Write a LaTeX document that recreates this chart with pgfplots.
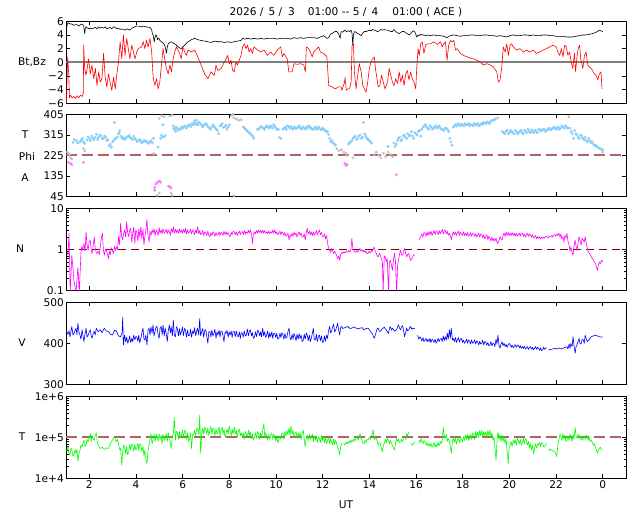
\documentclass[border=0pt]{standalone}
\usepackage{fontspec}
\setmainfont{DejaVu Sans}
\usepackage{pgfplots}
\pgfplotsset{compat=1.18}
\definecolor{rosy}{RGB}{178,100,100}
\definecolor{skyb}{RGB}{135,206,250}
\definecolor{silv}{RGB}{192,192,192}
\definecolor{pinkv}{RGB}{255,120,255}
\definecolor{magn}{RGB}{255,0,255}
\definecolor{grn}{RGB}{0,255,0}
\definecolor{blu}{RGB}{0,0,255}
\definecolor{rd}{RGB}{255,0,0}
\pgfplotsset{
  panel/.style={anchor=south west, width=560bp, height=82bp, scale only axis,
    xmin=1, xmax=25, xtick={2,4,...,24}, xticklabels={},
    tick align=inside, major tick length=4bp, minor tick length=2.5bp,
    axis line style={line width=0.8bp},
    every tick/.style={black, line width=0.6bp},
    /pgf/number format/assume math mode=true,
    yticklabel style={inner sep=2bp},
    xticklabel style={inner sep=2bp},
    clip=true},
  dat/.style={line width=0.6bp, line join=round},
  pts/.style={only marks, mark=*, mark size=1.2bp, color=#1},
}
\begin{document}
\fontsize{10.6bp}{12bp}\selectfont
\begin{tikzpicture}[x=1bp,y=1bp]
\path[use as bounding box] (0,0) rectangle (640,512);
% ---------- panel 1: Bt, Bz
\begin{axis}[panel, at={(66bp,408.7bp)}, ymin=-6, ymax=6, ytick={-6,-4,...,6},
  yticklabels={−6,−4,−2,0,2,4,6}]
\addplot[gray, line width=2bp] coordinates {(1,0)(25,0)};
\addplot[dat, black] coordinates {
(1.02,4.9)(1.05,5.5)(1.09,5.8)(1.12,5.7)(1.19,5.6)(1.26,5.6)(1.33,5.4)(1.40,5.5)(1.48,5.5)(1.55,5.3)(1.62,5.5)(1.69,5.6)(1.76,5.3)(1.80,4.2)(1.83,5.0)(1.86,5.2)(1.97,4.9)(2.04,5.0)(2.11,4.9)(2.19,5.0)(2.26,5.1)(2.33,4.9)(2.40,5.2)(2.47,5.0)(2.54,5.1)(2.61,5.0)(2.68,5.2)(2.75,4.9)(2.82,5.0)(2.89,5.1)(2.96,4.9)(3.04,5.2)(3.11,5.1)(3.18,4.9)(3.25,5.0)(3.32,4.8)(3.39,4.9)(3.46,4.8)(3.53,4.7)(3.60,4.9)(3.67,4.8)(3.74,4.7)(3.82,5.0)(3.89,5.1)(3.96,5.2)(4.03,5.3)(4.10,5.3)(4.24,5.2)(4.31,5.3)(4.38,5.2)(4.45,5.2)(4.52,5.1)(4.60,5.1)(4.67,4.8)(4.70,4.2)(4.74,3.9)(4.78,3.0)(4.81,3.6)(4.85,4.0)(4.88,3.9)(4.92,3.3)(4.95,3.5)(4.98,3.5)(5.02,3.2)(5.09,3.0)(5.16,2.8)(5.23,2.5)(5.27,2.0)(5.30,1.3)(5.34,2.2)(5.38,2.7)(5.45,2.9)(5.52,3.0)(5.59,2.8)(5.66,2.7)(5.73,2.5)(5.80,2.25)(5.87,2.1)(5.94,2.0)(6.01,2.3)(6.09,2.5)(6.16,2.8)(6.23,3.0)(6.37,3.3)(6.51,3.5)(6.65,3.3)(6.79,3.2)(6.94,3.1)(7.08,3.0)(7.22,2.9)(7.36,3.1)(7.50,3.0)(7.65,3.0)(7.79,2.9)(7.93,3.0)(8.07,2.9)(8.21,3.0)(8.35,3.1)(8.50,3.2)(8.57,3.5)(8.64,3.4)(8.78,3.5)(8.92,3.4)(9.06,3.5)(9.21,3.4)(9.35,3.5)(9.49,3.4)(9.63,3.5)(9.77,3.5)(9.91,3.5)(10.06,3.4)(10.20,3.5)(10.34,3.5)(10.48,3.5)(10.62,3.4)(10.77,3.6)(10.91,3.5)(11.05,3.6)(11.19,3.5)(11.33,3.6)(11.47,3.6)(11.62,3.6)(11.76,3.5)(11.90,3.7)(12.04,3.9)(12.11,3.7)(12.18,3.5)(12.26,3.6)(12.33,4.1)(12.40,4.2)(12.47,4.4)(12.54,4.5)(12.61,4.5)(12.68,4.2)(12.75,3.5)(12.79,4.5)(12.86,4.4)(12.94,4.7)(13.01,4.5)(13.08,4.6)(13.15,4.5)(13.22,4.7)(13.26,4.2)(13.29,2.5)(13.32,4.0)(13.36,4.5)(13.43,4.4)(13.50,4.2)(13.57,4.1)(13.65,3.9)(13.72,4.3)(13.79,4.5)(13.86,4.5)(13.93,4.6)(14.00,4.7)(14.07,4.6)(14.14,4.8)(14.21,4.7)(14.28,4.6)(14.35,4.5)(14.43,4.6)(14.50,4.8)(14.57,4.7)(14.64,4.8)(14.71,4.7)(14.78,4.7)(14.85,4.6)(14.92,4.5)(14.99,4.5)(15.06,4.8)(15.13,4.5)(15.21,4.3)(15.28,4.2)(15.35,4.4)(15.42,4.5)(15.49,4.5)(15.56,4.3)(15.63,4.2)(15.70,4.0)(15.77,4.2)(15.84,4.5)(15.91,4.6)(15.97,4.3)(16.03,3.7)(16.09,4.0)(16.14,3.9)(16.20,4.1)(16.27,4.0)(16.34,4.0)(16.41,3.9)(16.48,4.0)(16.62,3.9)(16.77,4.0)(16.91,3.9)(17.05,3.9)(17.19,3.8)(17.26,3.7)(17.33,3.6)(17.40,3.8)(17.48,3.9)(17.62,4.0)(17.76,3.9)(17.90,3.8)(18.04,3.9)(18.18,3.9)(18.33,4.0)(18.47,4.0)(18.61,3.9)(18.75,3.9)(18.89,4.0)(19.04,4.0)(19.18,3.9)(19.32,3.9)(19.46,3.8)(19.60,3.9)(19.74,3.8)(19.89,3.7)(20.03,3.9)(20.17,4.0)(20.31,3.9)(20.45,3.9)(20.60,4.0)(20.74,4.0)(20.88,3.9)(21.02,4.0)(21.16,3.9)(21.30,3.9)(21.45,4.0)(21.59,4.0)(21.73,3.9)(21.87,3.9)(22.01,3.8)(22.16,3.8)(22.30,3.8)(22.44,3.7)(22.58,3.7)(22.72,3.7)(22.86,3.8)(23.01,3.9)(23.15,4.0)(23.29,4.0)(23.43,4.1)(23.57,4.2)(23.72,4.4)(23.86,4.7)(23.93,4.6)(24.0,4.5)};
\addplot[dat, rd] coordinates {
(1.02,-5.9)(1.07,0.8)(1.12,-1.9)(1.15,-5.2)(1.19,-4.8)(1.26,-5.2)(1.33,-5.0)(1.40,-5.3)(1.48,-4.9)(1.55,-5.2)(1.62,-4.8)(1.69,-5.0)(1.74,-4.6)(1.76,2.5)(1.80,-0.9)(1.86,-1.9)(1.97,0.5)(2.04,-1.7)(2.11,-0.4)(2.19,-2.4)(2.26,-0.9)(2.33,-3.4)(2.40,-1.4)(2.47,-2.9)(2.54,-2.4)(2.61,1.3)(2.68,-2.2)(2.75,-3.6)(2.82,-1.7)(2.89,-2.9)(2.96,-4.1)(3.04,-2.2)(3.11,-3.9)(3.18,-1.7)(3.25,0.05)(3.32,3.0)(3.39,0.5)(3.46,4.0)(3.53,1.0)(3.60,3.5)(3.67,2.0)(3.74,0.5)(3.82,2.5)(3.89,1.5)(3.96,0.5)(4.03,1.5)(4.10,2.0)(4.24,2.25)(4.31,3.0)(4.38,2.0)(4.45,3.2)(4.52,2.25)(4.60,3.5)(4.67,1.5)(4.74,-2.4)(4.81,-3.4)(4.88,-2.4)(4.95,-3.9)(5.02,-2.9)(5.09,-0.4)(5.16,2.0)(5.23,0.5)(5.30,-0.9)(5.38,-1.7)(5.45,-0.4)(5.52,-1.4)(5.59,0.5)(5.66,1.5)(5.73,2.25)(5.80,1.8)(5.87,1.3)(5.94,0.5)(6.01,2.25)(6.09,1.5)(6.16,1.0)(6.23,1.8)(6.37,1.5)(6.51,1.8)(6.65,0.8)(6.79,-0.4)(6.94,-1.7)(7.08,-2.4)(7.22,-1.4)(7.36,-1.9)(7.43,-0.4)(7.50,-1.2)(7.65,-0.9)(7.79,0.05)(7.93,1.0)(8.00,-0.2)(8.07,0.3)(8.14,-1.2)(8.21,-1.4)(8.28,0.05)(8.35,-0.4)(8.50,1.0)(8.57,2.25)(8.64,2.7)(8.71,2.0)(8.78,2.5)(8.85,1.5)(8.92,2.0)(8.99,1.3)(9.06,2.25)(9.21,1.8)(9.35,1.5)(9.49,1.8)(9.63,1.0)(9.77,1.5)(9.91,1.0)(10.06,1.8)(10.20,2.25)(10.27,0.8)(10.34,1.3)(10.48,0.5)(10.55,-1.4)(10.69,-1.4)(10.77,-0.2)(10.91,-0.3)(11.05,-0.2)(11.19,-0.4)(11.26,-1.4)(11.30,2.25)(11.40,2.0)(11.47,1.5)(11.55,0.8)(11.62,1.5)(11.76,2.0)(11.83,2.25)(11.90,1.5)(12.04,1.3)(12.18,0.8)(12.26,-3.4)(12.40,-3.6)(12.54,-3.9)(12.68,-3.6)(12.79,-3.6)(12.82,-4.1)(12.94,-2.9)(12.96,-2.2)(13.01,-4.1)(13.08,-3.9)(13.15,-3.9)(13.22,-2.9)(13.26,2.5)(13.32,2.7)(13.36,-1.4)(13.43,-3.9)(13.50,-1.9)(13.57,-0.2)(13.65,-1.4)(13.72,-3.4)(13.79,-3.9)(13.86,-4.4)(13.93,-2.9)(14.00,-0.9)(14.07,0.05)(14.14,0.5)(14.21,0.8)(14.26,-0.9)(14.33,-2.4)(14.38,-3.6)(14.45,-3.4)(14.52,-1.9)(14.60,-2.9)(14.67,-3.9)(14.78,-2.9)(14.85,-0.9)(14.92,-1.9)(14.99,-2.9)(15.06,-3.4)(15.13,-2.4)(15.21,-3.1)(15.28,-1.4)(15.35,-2.9)(15.42,-1.9)(15.49,-3.4)(15.56,-1.7)(15.63,-1.2)(15.70,-2.6)(15.77,-1.4)(15.84,-2.4)(15.91,-2.9)(15.99,-3.9)(16.03,-0.9)(16.09,2.0)(16.14,1.0)(16.20,2.7)(16.27,3.0)(16.34,1.3)(16.41,2.5)(16.48,2.7)(16.62,2.7)(16.77,3.0)(16.91,2.6)(17.05,3.0)(17.12,2.25)(17.19,2.7)(17.26,3.0)(17.33,0.3)(17.40,2.5)(17.48,3.2)(17.55,3.0)(17.62,3.2)(17.69,1.8)(17.76,2.0)(17.90,1.3)(18.04,1.0)(18.18,0.8)(18.33,0.6)(18.47,0.5)(18.61,0.3)(18.75,0.05)(18.89,-0.4)(19.04,-0.2)(19.18,-0.4)(19.32,-0.7)(19.46,-1.4)(19.53,-2.9)(19.60,-2.6)(19.67,-0.9)(19.74,2.25)(19.82,1.5)(19.89,2.7)(19.96,1.0)(20.03,2.5)(20.10,2.7)(20.17,2.25)(20.31,1.8)(20.45,2.0)(20.60,1.5)(20.74,1.8)(20.88,1.5)(21.02,1.8)(21.16,1.3)(21.30,1.5)(21.45,1.8)(21.59,2.0)(21.73,2.25)(21.87,2.5)(22.01,2.25)(22.08,1.5)(22.16,1.0)(22.23,2.0)(22.30,0.8)(22.37,2.5)(22.44,2.25)(22.51,1.0)(22.58,1.5)(22.65,0.05)(22.72,-0.9)(22.79,1.3)(22.84,-1.4)(22.89,0.5)(22.95,2.0)(23.01,2.5)(23.06,0.5)(23.15,-0.9)(23.22,1.0)(23.29,1.5)(23.36,-0.4)(23.43,-0.7)(23.50,-0.9)(23.57,-1.2)(23.64,-1.7)(23.72,-1.9)(23.79,-2.6)(23.86,-1.7)(23.93,-1.4)(23.97,-3.9)};
\end{axis}
% ---------- panel 2: Phi scatter
\begin{axis}[panel, at={(66bp,315.5bp)}, ymin=45, ymax=405, ytick={45,135,225,315,405}]
\addplot[rosy, line width=2bp, dash pattern=on 11bp off 5bp] coordinates {(1,225)(25,225)};
\addplot[pts=silv] coordinates {
(1.05,240)(1.1,235)(1.15,230)(1.2,215)(1.25,210)(1.75,255)(1.8,245)(4.75,233)(4.9,50)(5.0,387)(5.0,60)(5.1,400)(5.2,395)(5.45,398)(5.5,60)(5.55,402)(5.55,50)(6.5,378)(6.6,380)(8.1,400)(8.15,405)(8.2,390)(8.2,49)(8.3,385)(8.4,380)(8.5,382)(12.6,255)(12.7,245)(12.8,250)(12.9,240)(13.0,235)(13.05,225)(13.3,215)(14.2,230)(14.3,240)(14.4,225)(14.5,215)(14.6,235)(14.7,220)(14.8,240)(14.9,230)(15.0,220)(19.5,390)(22.55,395)(24.0,240)};
\addplot[pts=pinkv] coordinates {
(1.1,195)(1.2,190)(1.25,185)(1.75,195)(4.8,85)(4.85,100)(4.9,105)(4.95,110)(5.0,112)(5.05,108)(4.8,72)(5.4,90)(5.45,88)(5.5,82)(12.95,190)(13.0,180)(13.05,185)(15.15,140)};
\addplot[pts=skyb] coordinates {
(1.3,283)(1.45,290)(1.6,285)(1.7,300)(1.8,278)(1.9,292)(2.0,300)(2.1,310)(2.2,295)(2.3,318)(2.4,305)(2.5,312)(2.6,298)(2.7,305)(2.8,295)(2.85,268)(2.9,275)(2.95,262)(3.0,285)(3.08,370)(3.1,298)(3.2,305)(3.25,320)(3.3,335)(3.35,310)(3.4,300)(3.5,295)(3.6,305)(3.7,312)(3.8,300)(3.9,310)(4.0,295)(4.1,290)(4.2,288)(4.3,285)(4.4,287)(4.5,282)(4.6,286)(4.7,280)(4.75,300)(4.95,262)(5.05,300)(5.1,315)(5.15,360)(5.2,305)(5.6,355)(5.65,340)(5.7,330)(5.75,345)(5.8,335)(5.9,340)(5.95,350)(6.0,345)(6.1,355)(6.2,350)(6.3,360)(6.4,365)(6.5,370)(6.6,368)(6.7,372)(6.8,360)(6.9,355)(7.0,365)(7.1,350)(7.2,340)(7.3,360)(7.4,345)(7.5,335)(7.55,320)(7.6,355)(7.7,365)(7.8,350)(7.9,340)(8.0,360)(8.6,350)(8.7,340)(8.8,330)(8.9,320)(9.0,310)(9.05,300)(9.2,340)(9.3,345)(9.4,350)(9.5,340)(9.6,355)(9.7,345)(9.8,350)(9.9,360)(10.0,345)(10.1,340)(10.15,305)(10.2,300)(10.3,340)(10.4,350)(10.5,355)(10.6,345)(10.7,340)(10.8,350)(10.9,345)(11.0,355)(11.1,340)(11.2,345)(11.3,350)(11.4,355)(11.5,345)(11.6,340)(11.7,350)(11.8,345)(11.9,340)(12.0,345)(12.1,335)(12.2,330)(12.3,300)(12.35,285)(12.4,290)(12.5,275)(12.55,270)(13.1,275)(13.2,285)(13.3,300)(13.4,310)(13.5,300)(13.6,315)(13.7,305)(13.75,370)(13.8,320)(13.9,300)(14.0,290)(14.1,280)(14.8,265)(15.05,280)(15.1,265)(15.2,290)(15.3,305)(15.4,295)(15.5,315)(15.6,300)(15.7,310)(15.8,330)(15.9,300)(16.0,320)(16.1,330)(16.2,310)(16.3,350)(16.4,360)(16.5,345)(16.6,355)(16.7,340)(16.8,350)(16.9,345)(17.0,355)(17.1,340)(17.2,335)(17.3,345)(17.4,330)(17.45,300)(17.5,285)(17.55,270)(17.6,350)(17.7,360)(17.8,365)(17.9,355)(18.0,360)(18.1,365)(18.2,360)(18.3,355)(18.4,360)(18.5,365)(18.6,360)(18.7,355)(18.8,365)(18.9,370)(19.0,365)(19.1,370)(19.2,375)(19.3,380)(19.4,385)(19.7,330)(19.8,320)(19.9,335)(20.0,325)(20.1,330)(20.2,320)(20.3,330)(20.4,325)(20.5,335)(20.6,320)(20.7,330)(20.8,340)(20.9,325)(21.0,330)(21.1,335)(21.2,325)(21.3,340)(21.4,335)(21.5,340)(21.6,335)(21.7,345)(21.8,340)(21.9,345)(22.0,340)(22.1,350)(22.2,345)(22.3,350)(22.4,355)(22.5,345)(22.6,345)(22.7,320)(22.75,300)(22.8,335)(22.9,315)(23.0,300)(23.1,310)(23.2,295)(23.3,290)(23.4,300)(23.5,280)(23.6,275)(23.7,270)(23.8,260)(23.9,255)(24.0,250)};
\addplot[pts=skyb] coordinates {
(1.35,295)(1.5,280)(1.65,292)(1.75,285)(1.95,305)(2.05,290)(2.15,300)(2.25,305)(2.35,295)(2.45,315)(2.55,300)(2.65,310)(2.75,290)(3.05,292)(3.15,302)(3.28,325)(3.45,305)(3.55,300)(3.65,308)(3.75,305)(3.85,295)(3.95,300)(4.05,285)(4.15,295)(4.25,280)(4.35,292)(4.45,288)(4.55,278)(4.65,290)(5.12,308)(5.25,312)(5.62,345)(5.72,350)(5.85,342)(6.05,352)(6.15,345)(6.25,358)(6.35,352)(6.45,360)(6.55,362)(6.65,360)(6.75,365)(6.85,350)(6.95,362)(7.05,358)(7.15,345)(7.25,350)(7.35,352)(7.45,340)(7.65,358)(7.75,348)(7.85,358)(7.95,350)(8.65,345)(8.75,335)(8.85,325)(8.95,315)(9.25,338)(9.35,352)(9.45,345)(9.55,348)(9.65,350)(9.75,355)(9.85,345)(9.95,352)(10.05,338)(10.35,345)(10.45,340)(10.55,350)(10.65,352)(10.75,345)(10.85,342)(10.95,350)(11.05,345)(11.15,350)(11.25,340)(11.35,345)(11.45,350)(11.55,340)(11.65,345)(11.75,340)(11.85,350)(11.95,338)(12.05,340)(12.15,330)(12.25,318)(12.45,280)(13.15,280)(13.25,290)(13.35,305)(13.45,295)(13.55,310)(13.65,300)(13.85,310)(13.95,295)(14.05,285)(15.15,275)(15.25,300)(15.35,290)(15.45,310)(15.55,305)(15.65,320)(15.75,315)(15.85,310)(15.95,325)(16.05,315)(16.15,335)(16.25,340)(16.35,355)(16.45,350)(16.55,340)(16.65,350)(16.75,345)(16.85,355)(16.95,350)(17.05,345)(17.15,338)(17.25,345)(17.35,340)(17.65,355)(17.75,355)(17.85,360)(17.95,362)(18.05,355)(18.15,360)(18.25,365)(18.35,360)(18.45,355)(18.55,360)(18.65,365)(18.75,360)(18.85,362)(18.95,368)(19.05,372)(19.15,365)(19.25,378)(19.35,382)(19.75,325)(19.85,330)(19.95,320)(20.05,335)(20.15,325)(20.25,335)(20.35,320)(20.45,330)(20.55,325)(20.65,335)(20.75,325)(20.85,330)(20.95,338)(21.05,325)(21.15,330)(21.25,338)(21.35,332)(21.45,340)(21.55,330)(21.65,340)(21.75,338)(21.85,345)(21.95,350)(22.05,345)(22.15,340)(22.25,355)(22.35,345)(22.45,350)(22.65,330)(22.85,320)(22.95,305)(23.05,315)(23.15,300)(23.25,305)(23.35,285)(23.45,290)(23.55,285)(23.65,268)(23.75,265)(23.85,258)(23.95,252)};
\end{axis}
% ---------- panel 3: N
\begin{axis}[panel, at={(66bp,221.5bp)}, ymode=log, ymin=0.1, ymax=10, ytick={0.1,1,10},
  yticklabels={0.1,1,10}, minor ytick={0.2,0.3,0.4,0.5,0.6,0.7,0.8,0.9,2,3,4,5,6,7,8,9}]
\addplot[color={rgb,255:red,128;green,0;blue,0}, line width=1bp, dash pattern=on 8bp off 5bp] coordinates {(1,1)(25,1)};
\addplot[dat, magn] coordinates {
(1.08,0.72)(1.13,2.5)(1.18,0.09)(1.25,0.72)(1.34,0.175)(1.43,0.09)(1.51,0.37)(1.57,0.09)(1.64,0.80)(1.68,1.2)(1.72,0.96)(1.77,1.41)(1.82,0.9)(1.86,2.7)(1.90,1.3)(1.95,0.96)(1.99,1.5)(2.04,1.70)(2.08,1.0)(2.12,0.80)(2.17,1.3)(2.21,2.05)(2.25,1.1)(2.30,0.80)(2.38,0.9)(2.43,0.75)(2.47,1.16)(2.51,1.8)(2.56,2.5)(2.60,1.0)(2.64,0.72)(2.69,1.0)(2.73,0.96)(2.77,0.8)(2.82,0.60)(2.86,0.9)(2.90,0.75)(2.95,1.1)(2.99,0.96)(3.04,0.8)(3.08,1.2)(3.12,0.95)(3.17,1.16)(3.21,1.0)(3.25,2.05)(3.30,1.3)(3.34,4.4)(3.38,2.2)(3.43,1.70)(3.47,2.5)(3.51,3.0)(3.56,2.0)(3.60,4.8)(3.64,2.6)(3.69,2.05)(3.73,3.0)(3.77,3.3)(3.82,1.5)(3.86,2.5)(3.90,3.5)(3.95,1.4)(3.99,3.0)(4.03,2.7)(4.08,1.6)(4.12,3.2)(4.16,2.0)(4.21,3.6)(4.25,1.8)(4.30,3.1)(4.34,1.3)(4.38,2.05)(4.43,3.3)(4.47,5.3)(4.51,2.2)(4.56,1.55)(4.60,2.8)(4.64,2.2)(4.69,3.0)(4.73,2.5)(4.77,3.2)(4.82,2.2)(4.86,3.0)(4.90,2.7)(4.95,2.2)(4.99,3.4)(5.03,2.5)(5.08,3.0)(5.12,2.4)(5.16,3.2)(5.21,2.5)(5.25,2.7)(5.30,3.1)(5.34,2.4)(5.38,3.0)(5.43,2.7)(5.47,2.2)(5.51,3.2)(5.56,2.6)(5.60,3.6)(5.64,2.5)(5.69,3.1)(5.73,2.6)(5.77,3.0)(5.82,2.5)(5.86,3.2)(5.90,2.6)(5.95,3.0)(5.99,2.5)(6.03,3.1)(6.08,2.6)(6.12,3.3)(6.16,2.4)(6.21,3.0)(6.25,2.5)(6.30,2.7)(6.34,3.1)(6.38,2.4)(6.43,3.0)(6.47,2.7)(6.51,2.3)(6.56,3.0)(6.60,2.5)(6.64,3.6)(6.69,2.4)(6.73,2.9)(6.77,2.3)(6.82,2.5)(6.86,2.9)(6.90,2.2)(6.95,2.7)(6.99,2.5)(7.03,2.2)(7.08,2.8)(7.12,2.2)(7.17,2.05)(7.21,2.6)(7.25,2.2)(7.30,2.7)(7.34,2.5)(7.38,2.1)(7.43,2.6)(7.47,2.2)(7.51,2.26)(7.56,2.7)(7.60,2.2)(7.64,2.6)(7.69,2.5)(7.73,2.2)(7.77,2.8)(7.82,2.3)(7.86,2.7)(7.90,2.3)(7.95,2.6)(7.99,2.2)(8.03,2.05)(8.08,2.6)(8.12,2.3)(8.16,2.8)(8.21,2.7)(8.25,2.3)(8.30,2.7)(8.34,2.2)(8.38,2.5)(8.43,2.8)(8.47,2.3)(8.51,2.7)(8.56,2.7)(8.60,2.3)(8.64,2.9)(8.69,2.4)(8.73,2.7)(8.77,2.5)(8.82,2.9)(8.86,2.5)(8.90,3.0)(8.95,2.4)(8.99,1.41)(9.03,2.4)(9.08,2.7)(9.12,2.4)(9.17,2.9)(9.21,2.5)(9.25,3.0)(9.30,2.6)(9.34,2.9)(9.38,2.5)(9.43,3.0)(9.47,2.5)(9.51,2.9)(9.56,2.5)(9.60,2.7)(9.64,2.4)(9.69,2.8)(9.73,2.4)(9.77,2.7)(9.82,2.5)(9.86,3.0)(9.90,2.5)(9.95,3.0)(9.99,2.4)(10.03,2.7)(10.08,2.3)(10.12,2.5)(10.17,2.8)(10.21,2.3)(10.25,2.7)(10.30,2.5)(10.34,2.2)(10.38,2.6)(10.43,2.1)(10.47,2.26)(10.51,2.5)(10.56,1.70)(10.60,2.3)(10.64,2.05)(10.69,2.5)(10.73,2.1)(10.77,2.6)(10.82,2.26)(10.86,2.5)(10.90,2.0)(10.95,2.4)(10.99,2.7)(11.03,2.2)(11.08,2.5)(11.12,2.0)(11.17,2.05)(11.21,2.4)(11.25,1.70)(11.30,2.6)(11.34,3.3)(11.38,2.4)(11.43,2.8)(11.47,2.3)(11.51,2.7)(11.56,2.2)(11.60,2.7)(11.64,2.2)(11.69,2.5)(11.73,2.9)(11.77,2.3)(11.82,2.7)(11.86,3.0)(11.90,2.3)(11.95,2.6)(11.99,2.1)(12.03,2.05)(12.08,2.4)(12.12,1.8)(12.17,2.2)(12.21,1.41)(12.25,1.1)(12.30,0.96)(12.34,0.85)(12.38,1.06)(12.43,0.9)(12.47,0.8)(12.51,0.9)(12.56,0.80)(12.60,0.7)(12.64,0.6)(12.69,0.7)(12.73,0.545)(12.77,0.75)(12.82,0.85)(12.86,0.8)(12.90,0.88)(12.95,0.82)(12.99,0.9)(13.04,0.85)(13.08,0.88)(13.12,0.95)(13.17,0.85)(13.21,1.0)(13.25,1.87)(13.30,1.0)(13.34,0.96)(13.38,0.85)(13.43,0.88)(13.47,0.95)(13.51,0.85)(13.56,1.0)(13.60,1.06)(13.64,0.9)(13.69,1.0)(13.73,0.88)(13.77,0.96)(13.82,0.85)(13.86,0.92)(13.90,0.8)(13.95,0.80)(13.99,0.9)(14.04,0.82)(14.08,0.95)(14.12,0.88)(14.16,1.0)(14.21,1.16)(14.25,0.9)(14.30,0.80)(14.34,0.7)(14.38,0.66)(14.43,0.8)(14.47,0.72)(14.51,0.6)(14.56,0.50)(14.59,0.09)(14.64,0.7)(14.68,0.66)(14.73,0.5)(14.77,0.60)(14.82,0.09)(14.86,0.5)(14.90,0.545)(14.95,0.4)(14.99,0.31)(15.04,0.6)(15.08,0.80)(15.12,0.5)(15.17,0.09)(15.21,0.4)(15.25,0.545)(15.30,0.8)(15.34,0.96)(15.38,0.75)(15.43,0.72)(15.47,0.9)(15.51,1.06)(15.56,0.8)(15.60,0.66)(15.64,0.75)(15.69,0.80)(15.73,0.65)(15.77,0.545)(15.82,0.6)(15.86,0.66)(15.90,0.75)(15.95,0.72)};
\addplot[dat, magn] coordinates {
(16.12,1.70)(16.17,1.9)(16.21,2.05)(16.25,2.4)(16.30,2.0)(16.34,2.6)(16.38,2.5)(16.43,2.1)(16.47,2.7)(16.51,2.2)(16.56,2.7)(16.60,2.3)(16.64,2.8)(16.69,2.2)(16.73,2.5)(16.77,2.9)(16.82,2.3)(16.86,2.8)(16.90,2.7)(16.95,2.3)(16.99,2.9)(17.04,2.4)(17.08,2.7)(17.13,3.1)(17.17,2.4)(17.21,2.8)(17.25,3.0)(17.30,2.4)(17.34,2.8)(17.38,2.2)(17.43,2.5)(17.47,2.2)(17.51,1.70)(17.56,2.3)(17.60,2.7)(17.64,2.3)(17.69,2.7)(17.73,2.2)(17.77,2.5)(17.82,2.8)(17.86,2.2)(17.90,2.6)(17.95,2.5)(17.99,2.2)(18.04,2.7)(18.08,2.2)(18.12,2.5)(18.17,2.2)(18.21,2.6)(18.25,2.1)(18.30,2.26)(18.34,2.6)(18.38,2.1)(18.43,2.5)(18.47,2.5)(18.51,2.1)(18.56,2.4)(18.60,2.0)(18.64,2.26)(18.69,2.5)(18.73,2.0)(18.77,2.4)(18.82,2.26)(18.86,1.9)(18.90,2.3)(18.95,1.8)(18.99,2.05)(19.04,2.3)(19.08,1.7)(19.12,2.1)(19.17,1.87)(19.21,1.6)(19.25,2.0)(19.30,1.6)(19.34,1.87)(19.38,1.6)(19.43,1.9)(19.47,1.5)(19.51,1.41)(19.56,1.7)(19.60,2.05)(19.64,1.8)(19.69,1.70)(19.73,2.2)(19.77,2.5)(19.82,2.1)(19.86,2.7)(19.90,2.2)(19.95,2.6)(19.99,2.2)(20.04,2.5)(20.08,2.2)(20.12,2.6)(20.17,2.2)(20.21,2.5)(20.25,2.1)(20.30,2.5)(20.34,2.1)(20.38,2.26)(20.43,2.5)(20.47,2.1)(20.51,2.5)(20.56,2.5)(20.60,2.1)(20.64,2.4)(20.69,2.0)(20.73,2.26)(20.77,2.5)(20.82,2.1)(20.86,2.4)(20.90,2.26)(20.95,2.0)(20.99,2.3)(21.04,1.9)(21.08,2.05)(21.12,2.2)(21.17,1.8)(21.21,2.1)(21.25,1.87)(21.30,2.0)(21.34,1.8)(21.38,2.0)(21.43,1.87)(21.47,2.0)(21.51,1.9)(21.56,2.1)(21.60,2.05)(21.64,1.9)(21.69,2.1)(21.73,2.0)(21.77,2.05)(21.82,2.2)(21.86,2.0)(21.90,2.3)(21.95,2.26)(21.99,2.1)(22.04,2.4)(22.08,2.2)(22.12,2.5)(22.17,2.0)(22.21,2.4)(22.25,1.8)(22.30,2.05)(22.34,1.5)(22.38,2.2)(22.43,1.9)(22.47,2.5)(22.51,1.6)(22.56,1.3)(22.60,0.9)(22.64,1.16)(22.69,0.85)(22.73,0.72)(22.77,1.2)(22.82,1.70)(22.86,1.2)(22.90,0.96)(22.95,1.5)(22.99,2.05)(23.04,1.6)(23.08,1.28)(23.12,1.9)(23.17,1.70)(23.21,1.5)(23.25,2.05)(23.30,1.4)(23.34,1.06)(23.38,0.9)(23.43,0.80)(23.47,0.75)(23.51,0.66)(23.56,0.6)(23.60,0.545)(23.64,0.5)(23.69,0.45)(23.73,0.38)(23.77,0.31)(23.82,0.42)(23.86,0.50)(23.90,0.45)(23.95,0.545)(24.0,0.50)};
\end{axis}
% ---------- panel 4: V
\begin{axis}[panel, at={(66bp,127.7bp)}, ymin=300, ymax=500, ytick={300,400,500}]
\addplot[dat, blu] coordinates {
(1.03,429)(1.08,422)(1.13,431)(1.17,416)(1.21,428)(1.25,441)(1.30,420)(1.34,424)(1.39,432)(1.43,437)(1.47,421)(1.51,449)(1.56,426)(1.60,420)(1.64,410)(1.69,433)(1.73,418)(1.77,404)(1.82,425)(1.86,437)(1.90,415)(1.95,420)(2.00,428)(2.04,433)(2.08,418)(2.12,412)(2.17,425)(2.21,429)(2.25,420)(2.30,437)(2.38,428)(2.47,433)(2.55,426)(2.64,437)(2.73,430)(2.82,429)(2.90,422)(2.99,420)(3.08,432)(3.17,429)(3.25,418)(3.34,416)(3.40,425)(3.43,463)(3.46,396)(3.49,410)(3.51,420)(3.56,403)(3.60,415)(3.65,400)(3.69,408)(3.73,418)(3.77,402)(3.82,412)(3.86,404)(3.90,420)(3.95,408)(3.99,416)(4.03,416)(4.08,405)(4.12,420)(4.16,401)(4.21,412)(4.25,425)(4.30,437)(4.34,410)(4.38,408)(4.42,420)(4.47,396)(4.51,430)(4.56,437)(4.60,420)(4.64,440)(4.69,425)(4.73,445)(4.77,418)(4.82,429)(4.86,440)(4.90,441)(4.95,420)(4.99,412)(5.03,436)(5.08,441)(5.12,420)(5.16,444)(5.21,418)(5.25,437)(5.30,422)(5.34,404)(5.38,430)(5.43,445)(5.47,425)(5.51,440)(5.56,418)(5.60,457)(5.64,420)(5.69,416)(5.73,440)(5.77,437)(5.82,418)(5.86,436)(5.90,420)(5.95,429)(5.99,440)(6.03,418)(6.08,436)(6.12,433)(6.16,415)(6.21,432)(6.25,418)(6.30,420)(6.34,435)(6.38,415)(6.43,430)(6.47,424)(6.51,438)(6.56,418)(6.60,430)(6.64,437)(6.69,420)(6.73,460)(6.77,418)(6.82,429)(6.86,436)(6.90,415)(6.95,432)(6.99,433)(7.03,418)(7.08,400)(7.12,428)(7.17,429)(7.21,415)(7.25,432)(7.30,418)(7.34,424)(7.38,434)(7.43,412)(7.47,428)(7.51,420)(7.56,432)(7.60,415)(7.64,430)(7.69,429)(7.73,418)(7.77,404)(7.82,428)(7.86,424)(7.90,432)(7.95,415)(7.99,428)(8.03,420)(8.08,430)(8.12,414)(8.16,428)(8.21,429)(8.25,416)(8.30,430)(8.34,418)(8.38,416)(8.43,428)(8.47,412)(8.51,426)(8.56,424)(8.60,415)(8.64,430)(8.69,418)(8.73,420)(8.77,435)(8.82,418)(8.86,430)(8.90,433)(8.95,418)(8.99,426)(9.03,412)(9.08,416)(9.12,428)(9.17,416)(9.21,432)(9.25,429)(9.30,418)(9.34,428)(9.38,416)(9.43,437)(9.47,418)(9.51,428)(9.56,414)(9.60,420)(9.64,430)(9.69,412)(9.73,426)(9.77,416)(9.82,428)(9.86,412)(9.90,425)(9.95,424)(9.99,414)(10.03,424)(10.08,410)(10.12,412)(10.17,424)(10.21,414)(10.25,426)(10.30,420)(10.34,410)(10.38,424)(10.43,412)(10.47,416)(10.51,428)(10.56,437)(10.60,414)(10.64,408)(10.69,422)(10.73,410)(10.77,424)(10.82,416)(10.86,406)(10.90,422)(10.95,410)(10.99,424)(11.03,412)(11.08,420)(11.12,404)(11.17,408)(11.21,422)(11.25,410)(11.30,425)(11.34,420)(11.38,406)(11.43,420)(11.47,404)(11.51,412)(11.56,425)(11.60,437)(11.64,410)(11.69,408)(11.73,422)(11.77,404)(11.82,418)(11.86,420)(11.90,406)(11.95,418)(11.99,402)(12.03,404)(12.08,418)(12.12,405)(12.17,420)(12.21,412)(12.25,430)(12.30,441)(12.34,425)(12.38,429)(12.43,440)(12.47,447)(12.51,428)(12.56,433)(12.60,440)(12.64,449)(12.69,430)(12.73,420)(12.77,438)(12.82,441)(12.86,436)(12.90,437)(13.00,439)(13.08,441)(13.17,436)(13.25,437)(13.34,440)(13.43,437)(13.51,435)(13.60,437)(13.69,438)(13.77,433)(13.86,436)(13.95,437)(14.04,430)(14.12,424)(14.17,418)(14.21,412)(14.26,420)(14.30,429)(14.34,436)(14.38,437)(14.43,430)(14.47,429)(14.56,436)(14.64,439)(14.73,432)(14.82,424)(14.86,436)(14.90,441)(14.95,432)(14.99,437)(15.08,430)(15.17,433)(15.21,440)(15.25,445)(15.30,436)(15.34,433)(15.38,440)(15.43,443)(15.47,430)(15.51,416)(15.56,428)(15.60,437)(15.64,430)(15.69,433)(15.73,438)(15.77,441)(15.82,434)(15.86,437)(15.90,435)(15.95,437)};
\addplot[dat, blu] coordinates {
(16.07,420)(16.12,410)(16.17,416)(16.21,412)(16.25,405)(16.30,414)(16.34,404)(16.38,408)(16.43,412)(16.47,404)(16.51,410)(16.56,404)(16.60,412)(16.64,402)(16.69,410)(16.73,408)(16.77,402)(16.82,410)(16.86,400)(16.90,404)(16.95,412)(16.99,404)(17.03,410)(17.08,412)(17.12,404)(17.17,418)(17.21,406)(17.25,416)(17.30,408)(17.34,425)(17.38,410)(17.43,433)(17.47,412)(17.51,437)(17.56,408)(17.60,412)(17.64,404)(17.69,414)(17.73,402)(17.77,408)(17.82,414)(17.86,403)(17.90,410)(17.95,412)(17.99,402)(18.03,408)(18.08,400)(18.12,404)(18.17,410)(18.21,400)(18.25,408)(18.30,405)(18.34,398)(18.38,408)(18.43,400)(18.47,402)(18.51,408)(18.56,398)(18.60,406)(18.64,404)(18.69,396)(18.73,405)(18.77,398)(18.82,400)(18.86,408)(18.90,396)(18.95,404)(18.99,404)(19.03,395)(19.08,402)(19.12,394)(19.17,396)(19.21,404)(19.25,394)(19.30,400)(19.34,400)(19.38,392)(19.43,410)(19.47,398)(19.51,420)(19.56,394)(19.60,388)(19.64,398)(19.69,404)(19.73,394)(19.77,400)(19.82,392)(19.86,398)(19.90,390)(19.95,396)(19.99,400)(20.04,396)(20.08,390)(20.12,396)(20.17,389)(20.21,392)(20.25,397)(20.30,390)(20.34,394)(20.38,396)(20.43,389)(20.47,394)(20.51,388)(20.56,392)(20.60,387)(20.64,393)(20.69,386)(20.73,388)(20.77,392)(20.82,385)(20.86,390)(20.90,392)(20.95,386)(20.99,390)(21.03,384)(21.08,388)(21.12,392)(21.17,385)(21.21,390)(21.25,388)(21.30,383)(21.34,389)(21.38,382)(21.43,384)(21.47,390)(21.51,385)(21.56,389)(21.60,388)};
\addplot[dat, blu] coordinates {
(21.69,386)(21.73,384)(21.77,385)(21.86,386)(21.95,388)(22.03,386)(22.12,389)(22.21,386)(22.30,388)(22.38,390)(22.47,392)(22.51,386)(22.56,398)(22.60,388)(22.64,400)(22.69,392)(22.73,416)(22.77,395)(22.82,376)(22.86,392)(22.90,396)(22.95,405)(22.99,412)(23.03,398)(23.08,400)(23.12,410)(23.17,408)(23.21,400)(23.25,420)(23.30,410)(23.34,404)(23.43,410)(23.51,416)(23.60,418)(23.69,420)(23.77,418)(23.86,416)(23.93,415)(24.0,416)};
\end{axis}
% ---------- panel 5: T
\begin{axis}[panel, at={(66bp,33.5bp)}, ymode=log, ymin=1e4, ymax=1e6, ytick={1e4,1e5,1e6},
  yticklabels={1e+4,1e+5,1e+6},
  minor ytick={2e4,3e4,4e4,5e4,6e4,7e4,8e4,9e4,2e5,3e5,4e5,5e5,6e5,7e5,8e5,9e5},
  xticklabels={2,4,6,8,10,12,14,16,18,20,22,0}]
\addplot[rosy, line width=2bp, dash pattern=on 11bp off 5bp] coordinates {(1,1e5)(25,1e5)};
\addplot[dat, grn] coordinates {
(1.03,4.5e4)(1.06,6.0e4)(1.08,5.9e4)(1.12,4.2e4)(1.17,3.7e4)(1.21,5.5e4)(1.25,4.9e4)(1.30,3.5e4)(1.34,3.7e4)(1.39,5.0e4)(1.43,4.1e4)(1.47,5.2e4)(1.51,2.6e4)(1.56,4.2e4)(1.60,4.9e4)(1.64,6.5e4)(1.69,5.9e4)(1.73,7.5e4)(1.77,8.6e4)(1.82,6.0e4)(1.86,6.5e4)(1.90,9.0e4)(1.95,7.9e4)(1.99,1.0e5)(2.04,1.25e5)(2.08,8.0e4)(2.12,1.14e5)(2.17,9.0e4)(2.21,8.6e4)(2.25,1.1e5)(2.30,1.3e5)(2.34,8.0e4)(2.38,6.5e4)(2.43,5.8e4)(2.47,5.4e4)(2.56,5.8e4)(2.64,5.1e4)(2.73,5.6e4)(2.82,5.4e4)(2.90,7.0e4)(2.99,8.6e4)(3.04,1.0e5)(3.08,1.04e5)(3.12,8.5e4)(3.17,7.9e4)(3.21,9.0e4)(3.25,7.0e4)(3.30,5.0e4)(3.34,5.4e4)(3.39,2.1e4)(3.43,4.5e4)(3.47,6.5e4)(3.51,5.9e4)(3.56,4.0e4)(3.60,6.0e4)(3.64,3.8e4)(3.69,4.5e4)(3.73,6.8e4)(3.77,5.0e4)(3.82,7.0e4)(3.86,6.5e4)(3.90,4.6e4)(3.95,6.8e4)(3.99,5.0e4)(4.03,5.4e4)(4.08,7.2e4)(4.12,4.8e4)(4.16,7.0e4)(4.21,6.5e4)(4.25,4.5e4)(4.30,6.0e4)(4.34,3.6e4)(4.38,4.9e4)(4.42,3.0e4)(4.47,2.3e4)(4.51,4.5e4)(4.56,6.5e4)(4.60,9.0e4)(4.64,1.25e5)(4.69,7.0e4)(4.73,8.6e4)(4.77,1.2e5)(4.82,8.0e4)(4.86,1.2e5)(4.90,1.14e5)(4.95,8.0e4)(4.99,1.25e5)(5.03,9.0e4)(5.08,1.14e5)(5.12,7.0e4)(5.16,1.2e5)(5.21,8.5e4)(5.25,9.5e4)(5.30,1.25e5)(5.34,8.0e4)(5.38,1.3e5)(5.43,1.04e5)(5.47,7.5e4)(5.51,5.4e4)(5.56,1.1e5)(5.60,1.25e5)(5.64,3.1e5)(5.69,8.6e4)(5.73,1.4e5)(5.77,1.37e5)(5.82,9.0e4)(5.86,1.4e5)(5.90,1.0e5)(5.95,1.14e5)(5.99,1.5e5)(6.03,1.0e5)(6.08,1.4e5)(6.12,1.5e5)(6.16,9.0e4)(6.21,1.3e5)(6.25,8.0e4)(6.30,9.5e4)(6.34,1.3e5)(6.38,5.4e4)(6.43,1.2e5)(6.47,1.14e5)(6.51,1.5e5)(6.56,1.1e5)(6.60,1.7e5)(6.64,1.6e5)(6.69,1.2e5)(6.73,3.5e5)(6.77,4.1e4)(6.82,1.25e5)(6.86,1.7e5)(6.90,1.2e5)(6.95,1.8e5)(6.99,1.6e5)(7.03,1.2e5)(7.08,1.7e5)(7.12,1.1e5)(7.17,1.5e5)(7.21,1.9e5)(7.25,1.2e5)(7.30,1.7e5)(7.34,1.6e5)(7.38,1.1e5)(7.43,1.6e5)(7.47,1.2e5)(7.51,1.37e5)(7.56,1.8e5)(7.60,1.1e5)(7.64,1.5e5)(7.69,1.8e5)(7.73,1.2e5)(7.77,1.6e5)(7.82,1.0e5)(7.86,1.25e5)(7.90,1.6e5)(7.95,1.2e5)(7.99,1.9e5)(8.03,1.5e5)(8.08,1.1e5)(8.12,1.6e5)(8.16,1.2e5)(8.21,1.8e5)(8.25,1.2e5)(8.30,1.5e5)(8.34,1.0e5)(8.38,1.37e5)(8.43,1.6e5)(8.47,1.1e5)(8.51,1.3e5)(8.56,1.04e5)(8.60,1.3e5)(8.64,9.0e4)(8.69,1.4e5)(8.73,1.25e5)(8.77,1.0e5)(8.82,1.5e5)(8.86,1.1e5)(8.90,1.37e5)(8.95,9.5e4)(8.99,1.2e5)(9.03,8.5e4)(9.08,1.04e5)(9.12,1.3e5)(9.17,9.5e4)(9.21,1.4e5)(9.25,1.25e5)(9.30,9.0e4)(9.34,1.3e5)(9.38,1.0e5)(9.43,1.5e5)(9.48,2.2e5)(9.52,1.0e5)(9.56,1.3e5)(9.60,1.04e5)(9.64,8.5e4)(9.69,1.2e5)(9.73,9.0e4)(9.77,1.14e5)(9.82,1.3e5)(9.86,9.0e4)(9.90,1.2e5)(9.95,1.04e5)(9.99,8.0e4)(10.03,1.1e5)(10.08,7.5e4)(10.12,8.6e4)(10.17,1.1e5)(10.21,9.0e4)(10.25,1.3e5)(10.30,1.25e5)(10.34,9.0e4)(10.38,1.4e5)(10.43,1.1e5)(10.47,1.5e5)(10.51,1.2e5)(10.56,1.7e5)(10.60,1.1e5)(10.64,1.9e5)(10.69,1.2e5)(10.73,1.5e5)(10.77,1.0e5)(10.82,1.25e5)(10.86,1.4e5)(10.90,9.5e4)(10.95,1.3e5)(10.99,1.04e5)(11.03,1.3e5)(11.08,9.0e4)(11.12,1.3e5)(11.17,1.5e5)(11.21,9.0e4)(11.25,5.9e4)(11.30,1.0e5)(11.34,1.14e5)(11.38,8.5e4)(11.43,1.2e5)(11.47,9.0e4)(11.51,1.04e5)(11.56,1.2e5)(11.60,8.0e4)(11.64,1.1e5)(11.69,8.6e4)(11.73,1.1e5)(11.77,7.5e4)(11.82,1.05e5)(11.86,9.5e4)(11.90,7.5e4)(11.95,1.1e5)(11.99,8.5e4)(12.03,1.04e5)(12.08,7.5e4)(12.12,1.0e5)(12.17,7.0e4)(12.21,8.6e4)(12.25,1.0e5)(12.30,7.0e4)(12.34,9.5e4)(12.38,7.9e4)(12.43,6.5e4)(12.47,9.0e4)(12.51,6.8e4)(12.56,8.6e4)(12.60,7.0e4)(12.64,5.9e4)(12.69,4.8e4)(12.73,3.7e4)(12.77,6.0e4)(12.82,7.1e4)};
\addplot[dat, grn] coordinates {
(12.90,7.1e4)(12.95,6.5e4)(12.99,7.8e4)(13.04,7.0e4)(13.08,7.9e4)(13.12,7.2e4)(13.17,8.5e4)(13.21,7.5e4)(13.25,8.6e4)(13.30,7.8e4)(13.34,9.5e4)(13.38,8.2e4)(13.43,9.5e4)(13.47,1.1e5)(13.51,8.5e4)(13.56,1.0e5)(13.60,1.25e5)(13.64,9.5e4)(13.69,8.6e4)(13.73,7.0e4)(13.77,7.1e4)(13.82,8.5e4)(13.86,7.5e4)(13.90,9.0e4)(13.95,8.6e4)(13.99,1.0e5)(14.04,9.0e4)(14.08,1.1e5)(14.12,1.14e5)(14.16,1.56e5)(14.21,8.6e4)(14.25,1.0e5)(14.30,9.5e4)(14.34,8.0e4)(14.38,6.5e4)(14.43,7.5e4)(14.47,7.1e4)(14.51,5.5e4)(14.56,4.5e4)(14.60,6.5e4)(14.64,7.1e4)(14.69,9.0e4)(14.73,7.5e4)(14.77,9.5e4)(14.82,8.6e4)(14.86,7.0e4)(14.90,8.5e4)(14.95,7.0e4)(14.99,6.5e4)(15.04,5.5e4)(15.08,4.9e4)(15.12,7.0e4)(15.17,9.5e4)(15.21,8.0e4)(15.25,9.0e4)(15.30,7.5e4)(15.34,7.9e4)(15.38,9.0e4)(15.43,8.0e4)(15.47,1.0e5)(15.51,1.04e5)(15.56,9.0e4)(15.60,1.25e5)(15.64,1.1e5)(15.69,1.37e5)};
\addplot[dat, grn] coordinates {(15.77,7.1e4)(15.86,6.5e4)(15.95,7.9e4)};
\addplot[dat, grn] coordinates {
(16.12,8.6e4)(16.17,7.5e4)(16.21,9.5e4)(16.25,8.0e4)(16.30,7.0e4)(16.34,8.5e4)(16.38,7.9e4)(16.43,6.5e4)(16.47,7.5e4)(16.51,6.2e4)(16.56,7.1e4)(16.60,6.0e4)(16.64,7.2e4)(16.69,5.8e4)(16.73,6.5e4)(16.77,7.5e4)(16.82,5.8e4)(16.86,6.8e4)(16.90,5.9e4)(16.95,7.5e4)(16.99,6.2e4)(17.04,8.0e4)(17.08,7.1e4)(17.13,9.0e4)(17.17,1.8e5)(17.21,1.0e5)(17.25,9.5e4)(17.30,1.2e5)(17.34,8.0e4)(17.38,9.5e4)(17.43,7.9e4)(17.47,6.0e4)(17.51,4.1e4)(17.56,8.0e4)(17.60,1.04e5)(17.64,7.5e4)(17.69,9.5e4)(17.73,7.0e4)(17.77,8.6e4)(17.82,1.0e5)(17.86,7.5e4)(17.90,9.0e4)(17.95,9.5e4)(17.99,7.8e4)(18.04,1.05e5)(18.08,8.5e4)(18.12,1.14e5)(18.17,9.0e4)(18.21,1.2e5)(18.25,8.5e4)(18.30,9.5e4)(18.34,1.2e5)(18.38,9.0e4)(18.43,1.3e5)(18.47,1.14e5)(18.51,9.0e4)(18.56,1.4e5)(18.60,1.0e5)(18.64,1.37e5)(18.69,1.0e5)(18.73,1.5e5)(18.77,1.1e5)(18.82,1.5e5)(18.86,1.0e5)(18.90,1.4e5)(18.95,1.1e5)(18.99,1.37e5)(19.04,1.0e5)(19.08,1.5e5)(19.12,1.1e5)(19.17,1.5e5)(19.21,1.0e5)(19.25,1.3e5)(19.30,8.5e4)(19.34,1.04e5)(19.38,6.0e4)(19.43,2.8e4)(19.47,8.0e4)(19.51,1.37e5)(19.56,9.0e4)(19.60,1.2e5)(19.64,8.0e4)(19.69,1.14e5)(19.73,8.0e4)(19.77,1.0e5)(19.82,7.0e4)(19.86,9.5e4)(19.90,5.0e4)(19.95,2.3e4)(19.99,5.5e4)(20.04,6.5e4)(20.08,8.0e4)(20.12,6.0e4)(20.17,8.5e4)(20.21,7.1e4)(20.25,9.0e4)(20.30,6.5e4)(20.34,9.5e4)(20.38,8.6e4)(20.43,7.0e4)(20.47,9.0e4)(20.51,6.5e4)(20.56,7.9e4)(20.60,9.5e4)(20.64,7.0e4)(20.69,9.5e4)(20.73,8.6e4)(20.77,6.5e4)(20.82,8.0e4)(20.86,5.5e4)(20.90,7.1e4)(20.95,5.0e4)(20.99,6.5e4)(21.04,4.0e4)(21.08,5.4e4)(21.12,7.0e4)(21.17,5.5e4)(21.21,7.0e4)(21.25,6.5e4)(21.30,7.5e4)(21.34,6.0e4)(21.38,7.5e4)(21.43,7.1e4)(21.47,6.0e4)(21.51,5.9e4)(21.56,6.8e4)(21.60,7.1e4)};
\addplot[dat, grn] coordinates {
(21.69,5.4e4)(21.73,4.8e4)(21.77,5.1e4)(21.86,4.8e4)(21.95,4.5e4)(21.99,4.0e4)(22.03,3.4e4)(22.08,6.5e4)(22.12,8.6e4)(22.17,1.2e5)(22.21,1.04e5)(22.25,8.5e4)(22.30,1.25e5)(22.34,9.0e4)(22.38,1.14e5)(22.43,8.0e4)(22.47,8.6e4)(22.51,1.1e5)(22.56,8.5e4)(22.60,1.2e5)(22.64,1.04e5)(22.69,8.0e4)(22.73,1.2e5)(22.77,9.0e4)(22.82,1.75e5)(22.86,1.1e5)(22.90,9.5e4)(22.95,1.2e5)(22.99,1.14e5)(23.04,9.0e4)(23.08,1.1e5)(23.12,8.5e4)(23.17,9.5e4)(23.21,1.1e5)(23.25,9.0e4)(23.30,1.15e5)(23.34,1.04e5)(23.38,8.5e4)(23.43,1.0e5)(23.47,8.0e4)(23.51,8.6e4)(23.56,7.5e4)(23.60,6.5e4)(23.64,7.0e4)(23.69,5.9e4)(23.73,5.0e4)(23.77,4.1e4)(23.82,5.0e4)(23.86,5.4e4)(23.90,5.8e4)(23.95,5.0e4)(24.0,4.9e4)};
\end{axis}
% ---------- texts
\node at (346,500) {2026 /\hspace{5bp}5 /\hspace{6bp}3\hspace{13bp}01:00 -{}- 5 /\hspace{5bp}4\hspace{14bp}01:00 ( ACE )};
\node at (32,450) {Bt,Bz};
\node at (25,377) {T};
\node at (27,356) {Phi};
\node at (25,334) {A};
\node at (20,263) {N};
\node at (22,169) {V};
\node at (22,75) {T};
\node at (346,7) {UT};
\end{tikzpicture}
\end{document}
